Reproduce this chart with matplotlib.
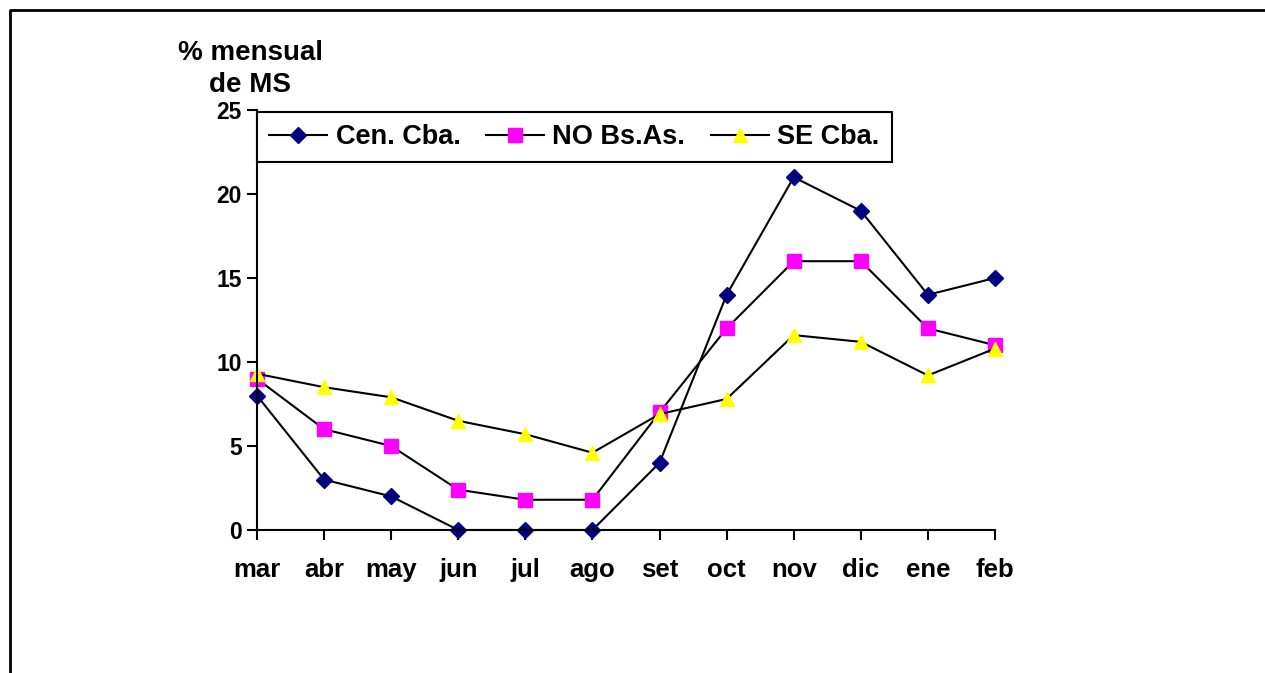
import matplotlib
matplotlib.use("Agg")
import matplotlib.pyplot as plt
from matplotlib.lines import Line2D

plt.rcParams['font.family'] = ['Liberation Sans', 'DejaVu Sans']
plt.rcParams['font.weight'] = 'bold'

meses = ['mar', 'abr', 'may', 'jun', 'jul', 'ago', 'set', 'oct', 'nov', 'dic', 'ene', 'feb']
cen_cba = [8, 3, 2, 0, 0, 0, 4, 14, 21, 19, 14, 15]
no_bsas = [9, 6, 5, 2.4, 1.8, 1.8, 7, 12, 16, 16, 12, 11]
se_cba = [9.3, 8.5, 7.9, 6.5, 5.7, 4.6, 6.9, 7.8, 11.6, 11.2, 9.2, 10.8]

W, H = 1265, 673
fig = plt.figure(figsize=(W / 100, H / 100), dpi=100)
ax = fig.add_axes([257 / W, 1 - 530 / H, (995 - 257) / W, (530 - 110) / H])

x = range(len(meses))
ax.plot(x, cen_cba, color='black', lw=1.5, marker='D', ms=8.5,
        mfc='#000080', mec='#000080', label='Cen. Cba.')
ax.plot(x, no_bsas, color='black', lw=1.5, marker='s', ms=9.5,
        mfc='#ff00ff', mec='#ff00ff', label='NO Bs.As.')
ax.plot(x, se_cba, color='black', lw=1.5, marker='^', ms=10,
        mfc='#ffff00', mec='#ffff00', label='SE Cba.')

ax.set_xlim(0, len(meses) - 1)
ax.set_ylim(0, 25)
ax.set_yticks([0, 5, 10, 15, 20, 25])
ax.set_xticks(list(x))
ax.set_xticklabels(meses)
ax.tick_params(axis='both', width=1.5, length=7, direction='out')
ax.tick_params(axis='y', labelsize=16.5, pad=4)
ax.tick_params(axis='x', labelsize=18.5, pad=13)
for s in ['top', 'right']:
    ax.spines[s].set_visible(False)
for s in ['left', 'bottom']:
    ax.spines[s].set_linewidth(1.5)
for ln in ax.lines:
    ln.set_clip_on(False)

leg = ax.legend(loc='upper left', bbox_to_anchor=(257 / W, 1 - 112 / H),
                bbox_transform=fig.transFigure, ncol=3, fontsize=19.5,
                frameon=True, fancybox=False, edgecolor='black',
                borderaxespad=0, handlelength=2.15, handletextpad=0.3,
                columnspacing=0.95, borderpad=0.45)
leg.get_frame().set_linewidth(1.5)
leg.get_frame().set_alpha(1)

fig.text(250 / W, 1 - 69 / H, '% mensual\nde MS', ha='center', va='center',
         fontsize=20, fontweight='bold', multialignment='center', linespacing=1.35)

# marco
fig.add_artist(Line2D([10 / W, 10 / W, 1], [0, 1 - 10 / H, 1 - 10 / H],
                      color='black', lw=2))

fig.savefig('out.png', dpi=100)
